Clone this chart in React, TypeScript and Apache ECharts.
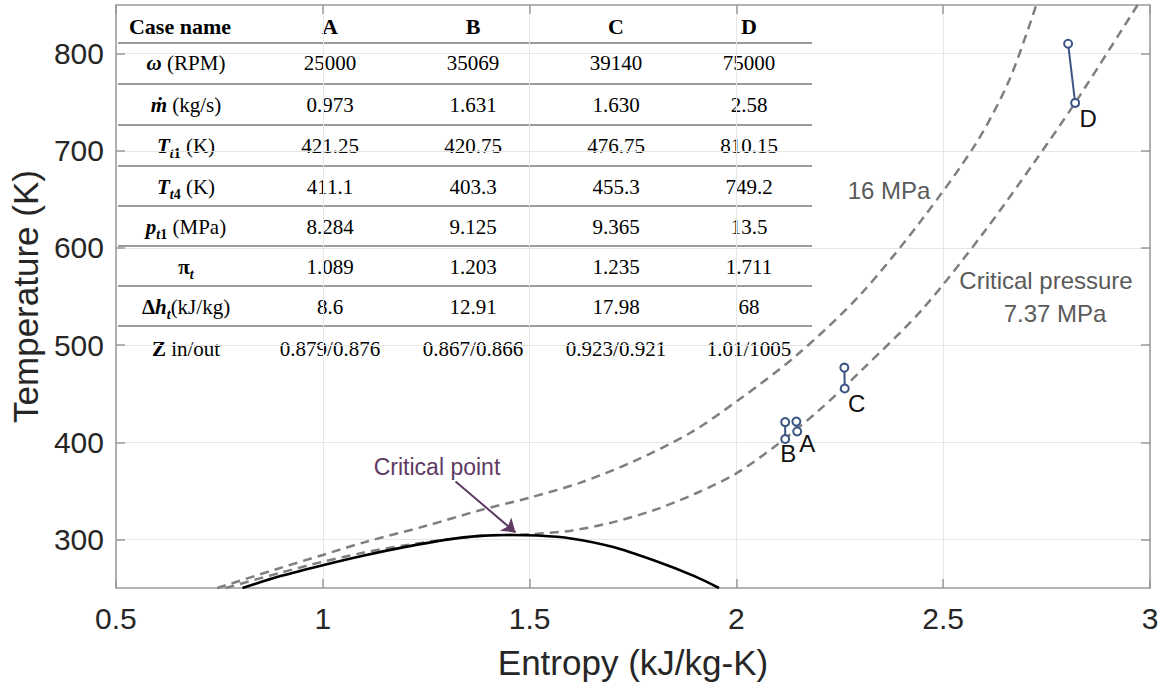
import React, { useEffect, useRef } from 'react';
import * as echarts from 'echarts';

// ---------- data ----------
const xTicks = [0.5, 1, 1.5, 2, 2.5, 3];
const yTicks = [300, 400, 500, 600, 700, 800];

// saturation dome (solid black)
const domeS = [0.806, 0.9, 1.0, 1.1, 1.2, 1.3, 1.38, 1.45, 1.52, 1.6, 1.7, 1.8, 1.9, 1.958];
const domeT = [250, 262.5, 273.5, 283.5, 292.3, 299.8, 303.6, 304.6, 304.0, 301.0, 292.4, 278.5, 262, 250];

// 16 MPa isobar (dashed)
const p16S = [0.745, 0.9, 1.0, 1.1, 1.25, 1.38, 1.5, 1.62, 1.75, 1.89, 2.01, 2.147, 2.3, 2.45, 2.58, 2.66, 2.725];
const p16T = [250, 271, 284, 297, 314, 330, 343, 358, 380, 410, 445, 490, 552, 630, 708, 773, 850];

// critical pressure 7.37 MPa isobar (dashed)
const pcS = [0.765, 0.9, 1.0, 1.1, 1.2, 1.3, 1.4, 1.5, 1.6, 1.7, 1.8, 1.9, 2.0, 2.1, 2.2, 2.3, 2.45, 2.6, 2.72, 2.82, 2.97];
const pcT = [250, 266, 277, 286.5, 294, 300, 304, 305.3, 309, 317.5, 330, 347, 368, 398, 433, 473, 537, 617, 688, 750, 850];

// turbine cases
const caseNames = ['A', 'B', 'C', 'D'];
const caseS1 = [2.145, 2.118, 2.261, 2.802];
const caseS4 = [2.147, 2.118, 2.262, 2.819];
const caseT1 = [421.25, 420.75, 476.75, 810.15];
const caseT4 = [411.1, 403.3, 455.3, 749.2];

// critical point annotation (arrow from / to, in data units)
const critArrowFrom = [1.321, 359.7];
const critArrowTo = [1.466, 307.1];

// table content
const tableHeader = ['Case name', 'A', 'B', 'C', 'D'];
const rowOmega = ['25000', '35069', '39140', '75000'];
const rowMdot = ['0.973', '1.631', '1.630', '2.58'];
const rowTt1 = ['421.25', '420.75', '476.75', '810.15'];
const rowTt4 = ['411.1', '403.3', '455.3', '749.2'];
const rowPt1 = ['8.284', '9.125', '9.365', '13.5'];
const rowPi = ['1.089', '1.203', '1.235', '1.711'];
const rowDh = ['8.6', '12.91', '17.98', '68'];
const rowZ = ['0.879/0.876', '0.867/0.866', '0.923/0.921', '1.01/1005'];

const rowLabels = [
  '{bi|ω}{n| (RPM)}',
  '{bi|ṁ}{n| (kg/s)}',
  '{bi|T}{sub|t}{subn|1}{n| (K)}',
  '{bi|T}{sub|t}{subn|4}{n| (K)}',
  '{bi|p}{sub|t}{subn|1}{n| (MPa)}',
  '{b|π}{sub|t}',
  '{b|Δ}{bi|h}{sub|t}{n|(kJ/kg)}',
  '{b|Z}{n| in/out}',
];
const rowValues = [rowOmega, rowMdot, rowTt1, rowTt4, rowPt1, rowPi, rowDh, rowZ];

// ---------- styling / layout ----------
const SANS = '"Liberation Sans", Arial, Helvetica, sans-serif';
const SERIF = '"Liberation Serif", "Times New Roman", serif';
const AXIS_GRAY = '#9a9a9a';
const TEXT_DARK = '#262626';
const NAVY = '#3a5583';
const DASH_GRAY = '#7f7f7f';

const TFS = 21; // table font size
const headerX = [180, 330, 473, 616, 749];
const colX = [186, 330, 473, 616, 749];
const headerY = 26;
const rowY = [63, 105, 146, 187, 227, 267, 307, 349];
const lineY = [43, 84, 125, 166, 206, 246, 286, 326];
const tableX1 = 118;
const tableX2 = 812;
const caseLabelOffsets = [[10, 12], [3, 14], [12, 15], [13, 16]];

const richStyles = {
  bi: { fontFamily: SERIF, fontSize: TFS, fontWeight: 'bold', fontStyle: 'italic', lineHeight: 28, fill: '#000' },
  b: { fontFamily: SERIF, fontSize: TFS, fontWeight: 'bold', lineHeight: 28, fill: '#000' },
  n: { fontFamily: SERIF, fontSize: TFS, lineHeight: 28, fill: '#000' },
  sub: { fontFamily: SERIF, fontSize: 14, fontWeight: 'bold', fontStyle: 'italic', lineHeight: 14, verticalAlign: 'bottom', fill: '#000' },
  subn: { fontFamily: SERIF, fontSize: 14, fontWeight: 'bold', lineHeight: 14, verticalAlign: 'bottom', fill: '#000' },
};

function buildTable(): any[] {
  const els: any[] = [];
  tableHeader.forEach((h, i) => {
    els.push({
      type: 'text', x: headerX[i], y: headerY, silent: true,
      style: { text: h, fontFamily: SERIF, fontSize: 22, fontWeight: 'bold', fill: '#000', align: 'center', verticalAlign: 'middle' },
    });
  });
  lineY.forEach((y) => {
    els.push({
      type: 'line', silent: true,
      shape: { x1: tableX1, y1: y, x2: tableX2, y2: y },
      style: { stroke: '#7a7a7a', lineWidth: 1.4 },
    });
  });
  rowLabels.forEach((lab, r) => {
    els.push({
      type: 'text', x: colX[0], y: rowY[r], silent: true,
      style: { text: lab, rich: richStyles, align: 'center', verticalAlign: 'middle' },
    });
    rowValues[r].forEach((v, c) => {
      els.push({
        type: 'text', x: colX[c + 1], y: rowY[r], silent: true,
        style: { text: v, fontFamily: SERIF, fontSize: TFS, fill: '#000', align: 'center', verticalAlign: 'middle' },
      });
    });
  });
  return els;
}

function annotations(): any[] {
  return [
    { type: 'text', x: 889, y: 190, silent: true, style: { text: '16 MPa', fontFamily: SANS, fontSize: 24, fill: '#5a5a5a', align: 'center', verticalAlign: 'middle' } },
    { type: 'text', x: 1046, y: 280, silent: true, style: { text: 'Critical pressure', fontFamily: SANS, fontSize: 24, fill: '#5a5a5a', align: 'center', verticalAlign: 'middle' } },
    { type: 'text', x: 1055, y: 313, silent: true, style: { text: '7.37 MPa', fontFamily: SANS, fontSize: 24, fill: '#5a5a5a', align: 'center', verticalAlign: 'middle' } },
    { type: 'text', x: 437, y: 467, silent: true, style: { text: 'Critical point', fontFamily: SANS, fontSize: 23, fill: '#5e3a63', align: 'center', verticalAlign: 'middle' } },
  ];
}

const zip = (a: number[], b: number[]) => a.map((v, i) => [v, b[i]]);

export default function App() {
  const ref = useRef<HTMLDivElement>(null);
  useEffect(() => {
    if (!ref.current) return;
    const chart = echarts.init(ref.current, undefined, { renderer: 'svg' });

    const axisLineStyle = { color: AXIS_GRAY, width: 1.5 };
    const caseSeries = caseNames.map((name, i) => ({
      type: 'line',
      name: 'Case ' + name,
      data: [
        [caseS1[i], caseT1[i]],
        {
          value: [caseS4[i], caseT4[i]],
          label: {
            show: true, formatter: name, position: 'inside', offset: caseLabelOffsets[i],
            fontSize: 24, fontFamily: SANS, color: '#111',
          },
        },
      ],
      symbol: 'emptyCircle',
      symbolSize: 8,
      showSymbol: true,
      itemStyle: { color: NAVY, borderWidth: 1.6 },
      lineStyle: { color: NAVY, width: 2 },
      label: { show: false },
      z: 5,
    }));

    const option: any = {
      animation: false,
      backgroundColor: '#ffffff',
      grid: { left: 115, right: 14, top: 5, bottom: 100 },
      xAxis: [
        {
          type: 'value', min: 0.5, max: 3, interval: 0.5, position: 'bottom',
          name: 'Entropy (kJ/kg-K)', nameLocation: 'middle', nameGap: 57,
          nameTextStyle: { fontSize: 35, color: TEXT_DARK, fontFamily: SANS },
          axisLine: { show: true, onZero: false, lineStyle: axisLineStyle },
          axisTick: { show: true, inside: true, length: 9, lineStyle: axisLineStyle },
          axisLabel: { fontSize: 30, color: TEXT_DARK, fontFamily: SANS, margin: 15, showMinLabel: true, showMaxLabel: true, formatter: (v: number) => String(v) },
          splitLine: { show: true, lineStyle: { color: '#e6e6e6', width: 1 } },
        },
        {
          type: 'value', min: 0.5, max: 3, interval: 0.5, position: 'top',
          axisLine: { show: true, onZero: false, lineStyle: axisLineStyle },
          axisTick: { show: true, inside: true, length: 9, lineStyle: axisLineStyle },
          axisLabel: { show: false },
          splitLine: { show: false },
        },
      ],
      yAxis: [
        {
          type: 'value', min: 250, max: 850, position: 'left',
          name: 'Temperature (K)', nameLocation: 'middle', nameGap: 64,
          nameTextStyle: { fontSize: 35, color: TEXT_DARK, fontFamily: SANS },
          axisLine: { show: true, onZero: false, lineStyle: axisLineStyle },
          axisTick: { show: true, inside: true, length: 9, lineStyle: axisLineStyle, customValues: yTicks },
          axisLabel: { fontSize: 30, color: TEXT_DARK, fontFamily: SANS, margin: 12, customValues: yTicks },
          splitLine: { show: true, lineStyle: { color: '#e6e6e6', width: 1 } },
        },
        {
          type: 'value', min: 250, max: 850, position: 'right',
          axisLine: { show: true, onZero: false, lineStyle: axisLineStyle },
          axisTick: { show: true, inside: true, length: 9, lineStyle: axisLineStyle, customValues: yTicks },
          axisLabel: { show: false },
          splitLine: { show: false },
        },
      ],
      series: [
        {
          type: 'line', name: '16 MPa', data: zip(p16S, p16T), showSymbol: false,
          smooth: 0.3,
          lineStyle: { color: DASH_GRAY, width: 2.5, type: [9, 6] }, z: 2,
        },
        {
          type: 'line', name: 'Critical pressure 7.37 MPa', data: zip(pcS, pcT), showSymbol: false,
          smooth: 0.3,
          lineStyle: { color: DASH_GRAY, width: 2.5, type: [9, 6] }, z: 2,
        },
        {
          type: 'line', name: 'Saturation dome', data: zip(domeS, domeT), showSymbol: false,
          smooth: 0.3,
          lineStyle: { color: '#000000', width: 2.6 }, z: 3,
          markLine: {
            silent: true, animation: false,
            symbol: ['none', 'arrow'], symbolSize: 13,
            lineStyle: { color: '#5e3a63', width: 2, type: 'solid' },
            label: { show: false },
            data: [[{ coord: critArrowFrom }, { coord: critArrowTo }]],
          },
        },
        ...caseSeries,
      ],
      graphic: [...buildTable(), ...annotations()],
    };
    chart.setOption(option);
    return () => chart.dispose();
  }, []);

  return (
    <div
      ref={ref}
      style={{ position: 'fixed', left: 0, top: 0, width: 1164, height: 688, background: '#fff' }}
    />
  );
}
